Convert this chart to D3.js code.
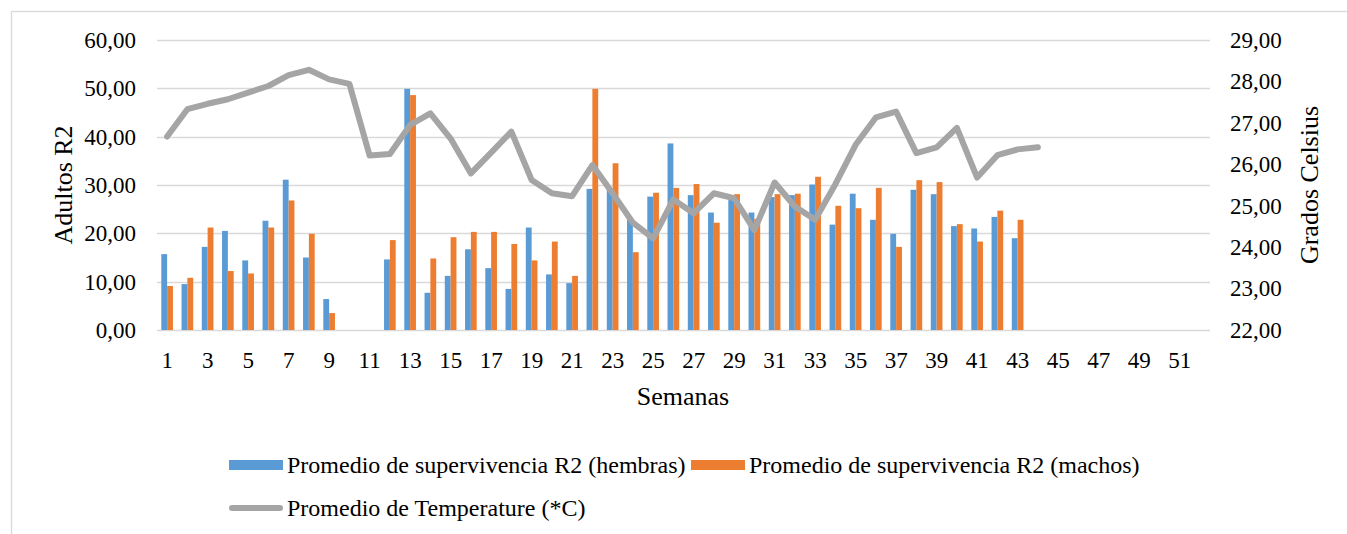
<!DOCTYPE html>
<html>
<head>
<meta charset="utf-8">
<script src="https://cdn.jsdelivr.net/npm/d3@7"></script>
<style>
  body { margin: 0; background: #fff; }
  svg text { font-family: "Liberation Serif", "Times New Roman", Times, serif !important; fill: #000; }
</style>
</head>
<body>
<div id="container"></div>
<script>
// weeks 1..52
const semanas = [1,2,3,4,5,6,7,8,9,10,11,12,13,14,15,16,17,18,19,20,21,22,23,24,25,26,
  27,28,29,30,31,32,33,34,35,36,37,38,39,40,41,42,43,44,45,46,47,48,49,50,51,52];
const hembras = [15.7, 9.5, 17.2, 20.5, 14.4, 22.6, 31.1, 15.0, 6.4, null, null, 14.6, 49.9, 7.7,
  11.2, 16.7, 12.8, 8.5, 21.2, 11.5, 9.7, 29.2, 29.0, 22.8, 27.6, 38.6, 27.9, 24.3, 27.8, 24.3,
  27.5, 27.9, 30.1, 21.8, 28.2, 22.8, 19.9, 29.0, 28.1, 21.5, 21.0, 23.4, 19.0];
const machos = [9.1, 10.8, 21.2, 12.2, 11.7, 21.2, 26.8, 19.9, 3.5, null, null, 18.6, 48.6, 14.8,
  19.2, 20.3, 20.3, 17.8, 14.4, 18.3, 11.2, 49.9, 34.5, 16.1, 28.4, 29.4, 30.2, 22.2, 28.1, 23.0,
  28.1, 28.2, 31.7, 25.7, 25.2, 29.4, 17.2, 31.0, 30.6, 21.9, 18.3, 24.7, 22.8];
const temperatura = [26.67, 27.33, 27.46, 27.57, 27.73, 27.89, 28.15, 28.28, 28.05, 27.94, 26.21,
  26.25, 26.95, 27.23, 26.62, 25.78, 26.28, 26.79, 25.62, 25.30, 25.23, 25.98, 25.30, 24.59, 24.21,
  25.15, 24.82, 25.30, 25.18, 24.41, 25.56, 24.98, 24.66, 25.52, 26.47, 27.13, 27.27, 26.27, 26.41,
  26.88, 25.68, 26.22, 26.36, 26.41];
const ticksIzq = [0, 10, 20, 30, 40, 50, 60];
const ticksDer = [22, 23, 24, 25, 26, 27, 28, 29];
const etiquetasX = [1,3,5,7,9,11,13,15,17,19,21,23,25,27,29,31,33,35,37,39,41,43,45,47,49,51];

const series = ["hembras", "machos"];
const colores = { hembras: "#5b9bd5", machos: "#ed7d31", temp: "#a5a5a5" };
const nombres = {
  hembras: "Promedio de supervivencia R2 (hembras)",
  machos: "Promedio de supervivencia R2 (machos)",
  temp: "Promedio de Temperature (*C)"
};

const width = 1347, height = 534;
const marginLeft = 157, marginRight = 137, marginTop = 40, marginBottom = 204;

const svg = d3.select("#container").append("svg")
  .attr("width", width)
  .attr("height", height)
  .attr("viewBox", [0, 0, width, height]);

// outer frame
svg.append("rect")
  .attr("x", 11.5).attr("y", 11.5)
  .attr("width", width).attr("height", height)
  .attr("fill", "none").attr("stroke", "#d9d9d9").attr("stroke-width", 1.3);

const x = d3.scaleBand()
  .domain(semanas)
  .range([marginLeft, width - marginRight])
  .padding(0);

const xs = d3.scaleBand()
  .domain(series)
  .range([4.3, x.bandwidth() - 4.3]);

const yL = d3.scaleLinear().domain([0, 60]).range([height - marginBottom, marginTop]);
const yR = d3.scaleLinear().domain([22, 29]).range([height - marginBottom, marginTop]);

const fmt = d => d3.format(".2f")(d).replace(".", ",");

// gridlines
svg.append("g")
  .selectAll("line")
  .data(ticksIzq)
  .join("line")
  .attr("x1", marginLeft)
  .attr("x2", width - marginRight)
  .attr("y1", d => Math.round(yL(d)) + 0.5)
  .attr("y2", d => Math.round(yL(d)) + 0.5)
  .attr("stroke", "#d9d9d9")
  .attr("stroke-width", 1.5);

// bars
const filas = semanas.map((s, i) => ({ semana: s, hembras: hembras[i], machos: machos[i] }));
svg.append("g")
  .selectAll("g")
  .data(filas)
  .join("g")
  .attr("transform", d => `translate(${x(d.semana)},0)`)
  .selectAll("rect")
  .data(d => series.map(k => ({ key: k, value: d[k] })).filter(v => v.value != null))
  .join("rect")
  .attr("x", d => xs(d.key))
  .attr("y", d => yL(d.value))
  .attr("width", xs.bandwidth())
  .attr("height", d => yL(0) - yL(d.value))
  .attr("fill", d => colores[d.key]);

// temperature line
const linea = d3.line()
  .x((d, i) => x(semanas[i]) + x.bandwidth() / 2)
  .y(d => yR(d));
svg.append("path")
  .datum(temperatura)
  .attr("d", linea)
  .attr("fill", "none")
  .attr("stroke", colores.temp)
  .attr("stroke-width", 6)
  .attr("stroke-linejoin", "round")
  .attr("stroke-linecap", "round");

// axes
svg.append("g")
  .attr("transform", `translate(0,${yL(0)})`)
  .call(d3.axisBottom(x).tickValues(etiquetasX).tickSize(0).tickPadding(22))
  .call(g => g.select(".domain").remove())
  .call(g => g.attr("font-family", null).attr("font-size", 23));

svg.append("g")
  .attr("transform", `translate(${marginLeft},0)`)
  .call(d3.axisLeft(yL).tickValues(ticksIzq).tickFormat(fmt).tickSize(0).tickPadding(21))
  .call(g => g.select(".domain").remove())
  .call(g => g.attr("font-family", null).attr("font-size", 23));

svg.append("g")
  .attr("transform", `translate(${width - marginRight},0)`)
  .call(d3.axisRight(yR).tickValues(ticksDer).tickFormat(fmt).tickSize(0).tickPadding(20))
  .call(g => g.select(".domain").remove())
  .call(g => g.attr("font-family", null).attr("font-size", 23));

// axis titles
svg.append("text")
  .attr("x", 683).attr("y", 405)
  .attr("text-anchor", "middle")
  .attr("font-size", 26)
  .text("Semanas");

svg.append("text")
  .attr("transform", `translate(72,${(yL(0) + yL(60)) / 2}) rotate(-90)`)
  .attr("text-anchor", "middle")
  .attr("font-size", 26)
  .text("Adultos R2");

svg.append("text")
  .attr("transform", `translate(1318,${(yL(0) + yL(60)) / 2}) rotate(-90)`)
  .attr("text-anchor", "middle")
  .attr("font-size", 26)
  .text("Grados Celsius");

// legend
const leyenda = svg.append("g").attr("font-size", 24);
const itemsBarra = [
  { key: "hembras", x: 229, y: 465 },
  { key: "machos", x: 691, y: 465 }
];
itemsBarra.forEach(it => {
  leyenda.append("rect")
    .attr("x", it.x).attr("y", it.y - 5)
    .attr("width", 54).attr("height", 10)
    .attr("fill", colores[it.key]);
  leyenda.append("text")
    .attr("x", it.x + 58).attr("y", it.y)
    .attr("dy", "0.35em")
    .text(nombres[it.key]);
});
leyenda.append("line")
  .attr("x1", 232).attr("x2", 280)
  .attr("y1", 508).attr("y2", 508)
  .attr("stroke", colores.temp)
  .attr("stroke-width", 6)
  .attr("stroke-linecap", "round");
leyenda.append("text")
  .attr("x", 287).attr("y", 508)
  .attr("dy", "0.35em")
  .text(nombres.temp);
</script>
</body>
</html>
